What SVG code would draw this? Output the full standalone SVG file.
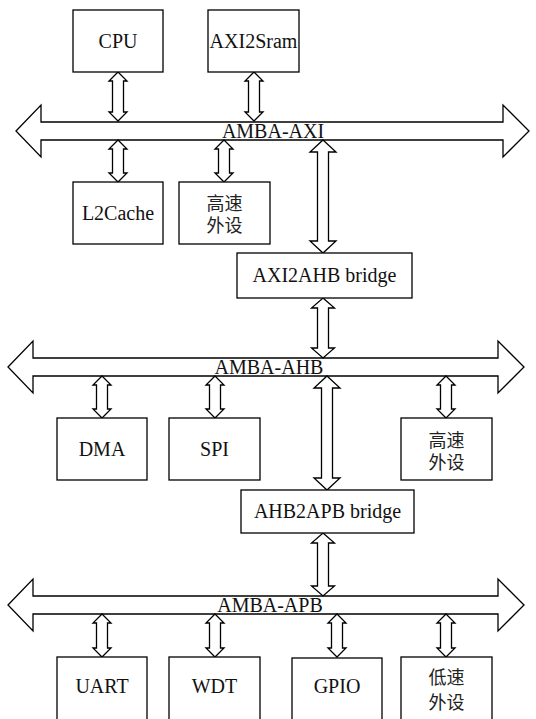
<svg xmlns="http://www.w3.org/2000/svg" width="536" height="719" viewBox="0 0 536 719">
<style>
.box{fill:#fff;stroke:#000;stroke-width:1.3}
.arr{fill:#fff;stroke:#000;stroke-width:1.3;stroke-linejoin:miter}
.t{font-family:"Liberation Serif","Times New Roman",serif;font-size:20px;fill:#111;text-anchor:middle}
.c{font-family:"Liberation Serif","Noto Sans CJK SC",sans-serif;font-size:18px;fill:#222;text-anchor:middle}
</style>
<rect width="536" height="719" fill="#fff"/>
<g id="connectors">
<path class="arr" d="M16,131 L41,105 L41,122 L503,122 L503,105 L529,131 L503,157 L503,140 L41,140 L41,157 Z"/>
<path class="arr" d="M8,367 L33,341 L33,358 L498,358 L498,341 L524,367 L498,393 L498,376 L33,376 L33,393 Z"/>
<path class="arr" d="M8,605 L33,579 L33,596 L498,596 L498,579 L524,605 L498,631 L498,614 L33,614 L33,631 Z"/>
<path class="arr" d="M118,72 L127,81 L123.5,81 L123.5,112 L127,112 L118,121 L109,112 L112.5,112 L112.5,81 L109,81 Z"/>
<path class="arr" d="M254,72 L263,81 L259.5,81 L259.5,112 L263,112 L254,121 L245,112 L248.5,112 L248.5,81 L245,81 Z"/>
<path class="arr" d="M118,140 L127,149 L123.5,149 L123.5,173 L127,173 L118,182 L109,173 L112.5,173 L112.5,149 L109,149 Z"/>
<path class="arr" d="M224,140 L233,149 L229.5,149 L229.5,173 L233,173 L224,182 L215,173 L218.5,173 L218.5,149 L215,149 Z"/>
<path class="arr" d="M323,140 L336,152 L328.5,152 L328.5,241 L336,241 L323,253 L310,241 L317.5,241 L317.5,152 L310,152 Z"/>
<path class="arr" d="M323,298 L334.5,308 L328.5,308 L328.5,348 L334.5,348 L323,358 L311.5,348 L317.5,348 L317.5,308 L311.5,308 Z"/>
<path class="arr" d="M102,376 L111,385 L107.5,385 L107.5,409 L111,409 L102,418 L93,409 L96.5,409 L96.5,385 L93,385 Z"/>
<path class="arr" d="M215,376 L224,385 L220.5,385 L220.5,409 L224,409 L215,418 L206,409 L209.5,409 L209.5,385 L206,385 Z"/>
<path class="arr" d="M446,376 L455,385 L451.5,385 L451.5,409 L455,409 L446,418 L437,409 L440.5,409 L440.5,385 L437,385 Z"/>
<path class="arr" d="M327,376 L340,388 L332.5,388 L332.5,478 L340,478 L327,490 L314,478 L321.5,478 L321.5,388 L314,388 Z"/>
<path class="arr" d="M323,533 L334.5,543 L328.5,543 L328.5,586 L334.5,586 L323,596 L311.5,586 L317.5,586 L317.5,543 L311.5,543 Z"/>
<path class="arr" d="M102,614 L111,623 L107.5,623 L107.5,648 L111,648 L102,657 L93,648 L96.5,648 L96.5,623 L93,623 Z"/>
<path class="arr" d="M215,614 L224,623 L220.5,623 L220.5,648 L224,648 L215,657 L206,648 L209.5,648 L209.5,623 L206,623 Z"/>
<path class="arr" d="M337,614 L346,623 L342.5,623 L342.5,648 L346,648 L337,657 L328,648 L331.5,648 L331.5,623 L328,623 Z"/>
<path class="arr" d="M446,614 L455,623 L451.5,623 L451.5,648 L455,648 L446,657 L437,648 L440.5,648 L440.5,623 L437,623 Z"/>
<text class="t" x="273" y="138">AMBA-AXI</text>
<text class="t" x="269" y="374">AMBA-AHB</text>
<text class="t" x="270" y="612">AMBA-APB</text>
</g>
<g id="cpu"><rect class="box" x="73" y="10" width="90" height="62"/><text class="t" x="118" y="48">CPU</text></g>
<g id="axi2sram"><rect class="box" x="208" y="10" width="91" height="62"/><text class="t" x="253.5" y="48">AXI2Sram</text></g>
<g id="l2cache"><rect class="box" x="73" y="182" width="90" height="62"/><text class="t" x="118" y="220">L2Cache</text></g>
<g id="hsp1"><rect class="box" x="179" y="182" width="91" height="62"/><text class="c" x="224.5" y="210">高速</text><text class="c" x="224.5" y="232">外设</text></g>
<g id="axi2ahb"><rect class="box" x="237" y="253" width="175" height="45"/><text class="t" x="324.5" y="282">AXI2AHB bridge</text></g>
<g id="dma"><rect class="box" x="57" y="418" width="90" height="62"/><text class="t" x="102" y="456">DMA</text></g>
<g id="spi"><rect class="box" x="169" y="418" width="91" height="62"/><text class="t" x="214.5" y="456">SPI</text></g>
<g id="hsp2"><rect class="box" x="401" y="418" width="91" height="62"/><text class="c" x="446.5" y="447">高速</text><text class="c" x="446.5" y="469">外设</text></g>
<g id="ahb2apb"><rect class="box" x="241" y="490" width="173" height="43"/><text class="t" x="327.5" y="518">AHB2APB bridge</text></g>
<g id="uart"><rect class="box" x="57" y="657" width="90" height="66"/><text class="t" x="102" y="693">UART</text></g>
<g id="wdt"><rect class="box" x="169" y="657" width="91" height="66"/><text class="t" x="214.5" y="693">WDT</text></g>
<g id="gpio"><rect class="box" x="292" y="658" width="90" height="66"/><text class="t" x="337" y="693">GPIO</text></g>
<g id="lsp"><rect class="box" x="401" y="657" width="91" height="66"/><text class="c" x="446.5" y="684">低速</text><text class="c" x="446.5" y="709">外设</text></g>
</svg>
